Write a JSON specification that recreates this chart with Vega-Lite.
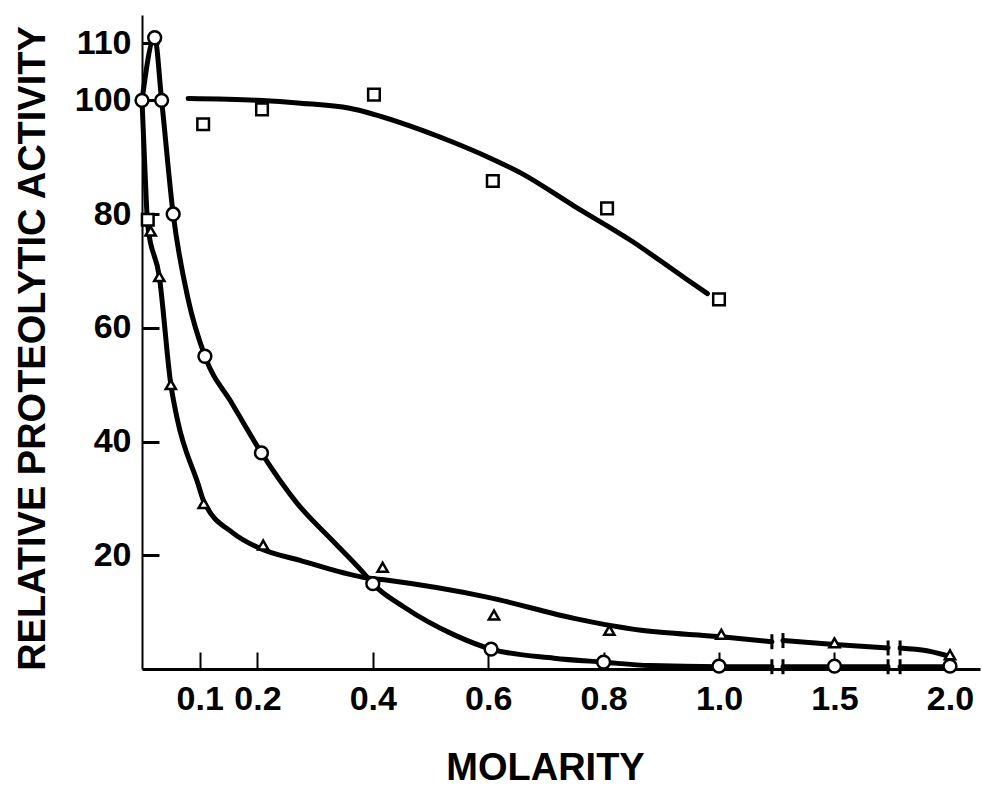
{
  "$schema": "https://vega.github.io/schema/vega-lite/v6.json",
  "autosize": {"type": "none"},
  "padding": {"left": 142, "top": 15, "right": 2, "bottom": 122},
  "width": 838,
  "height": 654,
  "background": "white",
  "config": {
    "view": {"stroke": null},
    "font": "Liberation Sans"
  },
  "datasets": {
    "curves": [
      {"series": "square", "seg": "square-1", "molarity": 0.08, "activity": 100.3},
      {"series": "square", "seg": "square-1", "molarity": 0.2, "activity": 100},
      {"series": "square", "seg": "square-1", "molarity": 0.275, "activity": 99.5},
      {"series": "square", "seg": "square-1", "molarity": 0.36, "activity": 98.6},
      {"series": "square", "seg": "square-1", "molarity": 0.45, "activity": 96},
      {"series": "square", "seg": "square-1", "molarity": 0.535, "activity": 92.8},
      {"series": "square", "seg": "square-1", "molarity": 0.6, "activity": 90},
      {"series": "square", "seg": "square-1", "molarity": 0.657, "activity": 87.2},
      {"series": "square", "seg": "square-1", "molarity": 0.749, "activity": 81.4},
      {"series": "square", "seg": "square-1", "molarity": 0.848, "activity": 75.3},
      {"series": "square", "seg": "square-1", "molarity": 0.94, "activity": 68.8},
      {"series": "square", "seg": "square-1", "molarity": 0.98, "activity": 66},

      {"series": "circle", "seg": "circle-1", "molarity": 0, "activity": 100},
      {"series": "circle", "seg": "circle-1", "molarity": 0.022, "activity": 111},
      {"series": "circle", "seg": "circle-1", "molarity": 0.034, "activity": 100},
      {"series": "circle", "seg": "circle-1", "molarity": 0.054, "activity": 80},
      {"series": "circle", "seg": "circle-1", "molarity": 0.08, "activity": 65},
      {"series": "circle", "seg": "circle-1", "molarity": 0.109, "activity": 55},
      {"series": "circle", "seg": "circle-1", "molarity": 0.156, "activity": 46.7},
      {"series": "circle", "seg": "circle-1", "molarity": 0.207, "activity": 38},
      {"series": "circle", "seg": "circle-1", "molarity": 0.27, "activity": 29},
      {"series": "circle", "seg": "circle-1", "molarity": 0.33, "activity": 22.6},
      {"series": "circle", "seg": "circle-1", "molarity": 0.383, "activity": 17},
      {"series": "circle", "seg": "circle-1", "molarity": 0.4, "activity": 15},
      {"series": "circle", "seg": "circle-1", "molarity": 0.454, "activity": 10.9},
      {"series": "circle", "seg": "circle-1", "molarity": 0.541, "activity": 6},
      {"series": "circle", "seg": "circle-1", "molarity": 0.605, "activity": 3.5},
      {"series": "circle", "seg": "circle-1", "molarity": 0.714, "activity": 1.9},
      {"series": "circle", "seg": "circle-1", "molarity": 0.8, "activity": 1.2},
      {"series": "circle", "seg": "circle-1", "molarity": 0.88, "activity": 0.6},
      {"series": "circle", "seg": "circle-1", "molarity": 1.0, "activity": 0.4},
      {"series": "circle", "seg": "circle-1", "molarity": 1.229, "activity": 0.4},
      {"series": "circle", "seg": "circle-2", "molarity": 1.277, "activity": 0.4},
      {"series": "circle", "seg": "circle-2", "molarity": 1.5, "activity": 0.4},
      {"series": "circle", "seg": "circle-2", "molarity": 1.732, "activity": 0.4},
      {"series": "circle", "seg": "circle-3", "molarity": 1.784, "activity": 0.4},
      {"series": "circle", "seg": "circle-3", "molarity": 2.0, "activity": 0.4},

      {"series": "triangle", "seg": "triangle-1", "molarity": 0, "activity": 100},
      {"series": "triangle", "seg": "triangle-1", "molarity": 0.005, "activity": 88},
      {"series": "triangle", "seg": "triangle-1", "molarity": 0.01, "activity": 78},
      {"series": "triangle", "seg": "triangle-1", "molarity": 0.03, "activity": 69},
      {"series": "triangle", "seg": "triangle-1", "molarity": 0.05, "activity": 50},
      {"series": "triangle", "seg": "triangle-1", "molarity": 0.061, "activity": 44},
      {"series": "triangle", "seg": "triangle-1", "molarity": 0.097, "activity": 32.6},
      {"series": "triangle", "seg": "triangle-1", "molarity": 0.107, "activity": 29.5},
      {"series": "triangle", "seg": "triangle-1", "molarity": 0.158, "activity": 23.9},
      {"series": "triangle", "seg": "triangle-1", "molarity": 0.205, "activity": 21.2},
      {"series": "triangle", "seg": "triangle-1", "molarity": 0.274, "activity": 19.1},
      {"series": "triangle", "seg": "triangle-1", "molarity": 0.385, "activity": 16.1},
      {"series": "triangle", "seg": "triangle-1", "molarity": 0.426, "activity": 15.6},
      {"series": "triangle", "seg": "triangle-1", "molarity": 0.6, "activity": 12.6},
      {"series": "triangle", "seg": "triangle-1", "molarity": 0.749, "activity": 8.9},
      {"series": "triangle", "seg": "triangle-1", "molarity": 0.865, "activity": 6.8},
      {"series": "triangle", "seg": "triangle-1", "molarity": 1.0, "activity": 5.7},
      {"series": "triangle", "seg": "triangle-1", "molarity": 1.229, "activity": 4.8},
      {"series": "triangle", "seg": "triangle-2", "molarity": 1.277, "activity": 5.0},
      {"series": "triangle", "seg": "triangle-2", "molarity": 1.5, "activity": 4.3},
      {"series": "triangle", "seg": "triangle-2", "molarity": 1.732, "activity": 3.7},
      {"series": "triangle", "seg": "triangle-3", "molarity": 1.784, "activity": 3.7},
      {"series": "triangle", "seg": "triangle-3", "molarity": 1.9, "activity": 3.2},
      {"series": "triangle", "seg": "triangle-3", "molarity": 2.0, "activity": 2.2}
    ],
    "points": [
      {"series": "square", "molarity": 0.01, "activity": 79},
      {"series": "square", "molarity": 0.106, "activity": 95.8},
      {"series": "square", "molarity": 0.208, "activity": 98.4},
      {"series": "square", "molarity": 0.402, "activity": 101},
      {"series": "square", "molarity": 0.608, "activity": 85.8},
      {"series": "square", "molarity": 0.806, "activity": 81},
      {"series": "square", "molarity": 1.0, "activity": 65},

      {"series": "circle", "molarity": 0, "activity": 100},
      {"series": "circle", "molarity": 0.022, "activity": 111},
      {"series": "circle", "molarity": 0.034, "activity": 100},
      {"series": "circle", "molarity": 0.054, "activity": 80},
      {"series": "circle", "molarity": 0.109, "activity": 55},
      {"series": "circle", "molarity": 0.207, "activity": 38},
      {"series": "circle", "molarity": 0.4, "activity": 15},
      {"series": "circle", "molarity": 0.605, "activity": 3.5},
      {"series": "circle", "molarity": 0.8, "activity": 1.2},
      {"series": "circle", "molarity": 1.0, "activity": 0.5},
      {"series": "circle", "molarity": 1.5, "activity": 0.5},
      {"series": "circle", "molarity": 2.0, "activity": 0.5},

      {"series": "triangle", "molarity": 0.015, "activity": 77},
      {"series": "triangle", "molarity": 0.03, "activity": 69},
      {"series": "triangle", "molarity": 0.05, "activity": 50},
      {"series": "triangle", "molarity": 0.107, "activity": 29.1},
      {"series": "triangle", "molarity": 0.21, "activity": 21.8},
      {"series": "triangle", "molarity": 0.417, "activity": 17.9},
      {"series": "triangle", "molarity": 0.61, "activity": 9.5},
      {"series": "triangle", "molarity": 0.81, "activity": 6.8},
      {"series": "triangle", "molarity": 1.01, "activity": 6.1},
      {"series": "triangle", "molarity": 1.5, "activity": 4.6},
      {"series": "triangle", "molarity": 2.0, "activity": 2.5}
    ],
    "caps": [
      {"series": "circle", "molarity": 1.229, "activity": 0.4},
      {"series": "circle", "molarity": 1.277, "activity": 0.4},
      {"series": "circle", "molarity": 1.732, "activity": 0.4},
      {"series": "circle", "molarity": 1.784, "activity": 0.4},
      {"series": "triangle", "molarity": 1.229, "activity": 4.8},
      {"series": "triangle", "molarity": 1.277, "activity": 5.0},
      {"series": "triangle", "molarity": 1.732, "activity": 3.7},
      {"series": "triangle", "molarity": 1.784, "activity": 3.7}
    ]
  },
  "encoding": {
    "x": {
      "field": "molarity",
      "type": "quantitative",
      "scale": {"domain": [0, 1, 2.13], "range": [0, 577, 838], "nice": false, "zero": false},
      "axis": {
        "title": "MOLARITY",
        "values": [0.1, 0.2, 0.4, 0.6, 0.8, 1.0, 1.5, 2.0],
        "format": ".1f",
        "grid": false,
        "domainColor": "black",
        "domainWidth": 3,
        "tickColor": "black",
        "tickWidth": 2,
        "tickSize": -17,
        "labelPadding": 30,
        "labelFontSize": 34,
        "labelFontWeight": "bold",
        "labelColor": "black",
        "labelFont": "Liberation Sans",
        "titleFont": "Liberation Sans",
        "titleFontSize": 38,
        "titleFontWeight": "bold",
        "titleColor": "black",
        "titleX": 403,
        "titleY": 110,
        "titleBaseline": "alphabetic",
        "titleAlign": "center"
      }
    },
    "y": {
      "field": "activity",
      "type": "quantitative",
      "scale": {"domain": [0, 115], "nice": false, "zero": false},
      "axis": {
        "title": "RELATIVE PROTEOLYTIC ACTIVITY",
        "values": [20, 40, 60, 80, 100, 110],
        "grid": false,
        "domainColor": "black",
        "domainWidth": 2,
        "tickColor": "black",
        "tickWidth": 3,
        "tickSize": -17,
        "labelPadding": 28,
        "labelFontSize": 34,
        "labelFontWeight": "bold",
        "labelColor": "black",
        "labelFont": "Liberation Sans",
        "titleFont": "Liberation Sans",
        "titleFontSize": 38,
        "titleFontWeight": "bold",
        "titleColor": "black",
        "titleX": -98,
        "titleY": 333,
        "titleAngle": -90,
        "titleBaseline": "alphabetic",
        "titleAlign": "center"
      }
    }
  },
  "layer": [
    {
      "data": {"name": "curves"},
      "mark": {"type": "line", "color": "black", "strokeWidth": 5, "interpolate": "monotone", "strokeCap": "round"},
      "encoding": {"detail": {"field": "seg", "type": "nominal"}}
    },
    {
      "data": {"name": "caps"},
      "mark": {"type": "tick", "orient": "vertical", "color": "black", "thickness": 3, "size": 15, "opacity": 1},
      "encoding": {}
    },
    {
      "data": {"name": "points"},
      "mark": {"type": "point", "filled": true, "fill": "white", "stroke": "black", "strokeWidth": 2.5, "opacity": 1},
      "encoding": {
        "shape": {
          "field": "series",
          "type": "nominal",
          "scale": {"domain": ["circle", "square", "triangle"], "range": ["circle", "square", "triangle-up"]},
          "legend": null
        },
        "size": {
          "field": "series",
          "type": "nominal",
          "scale": {"domain": ["circle", "square", "triangle"], "range": [165, 105, 85]},
          "legend": null
        }
      }
    }
  ]
}
